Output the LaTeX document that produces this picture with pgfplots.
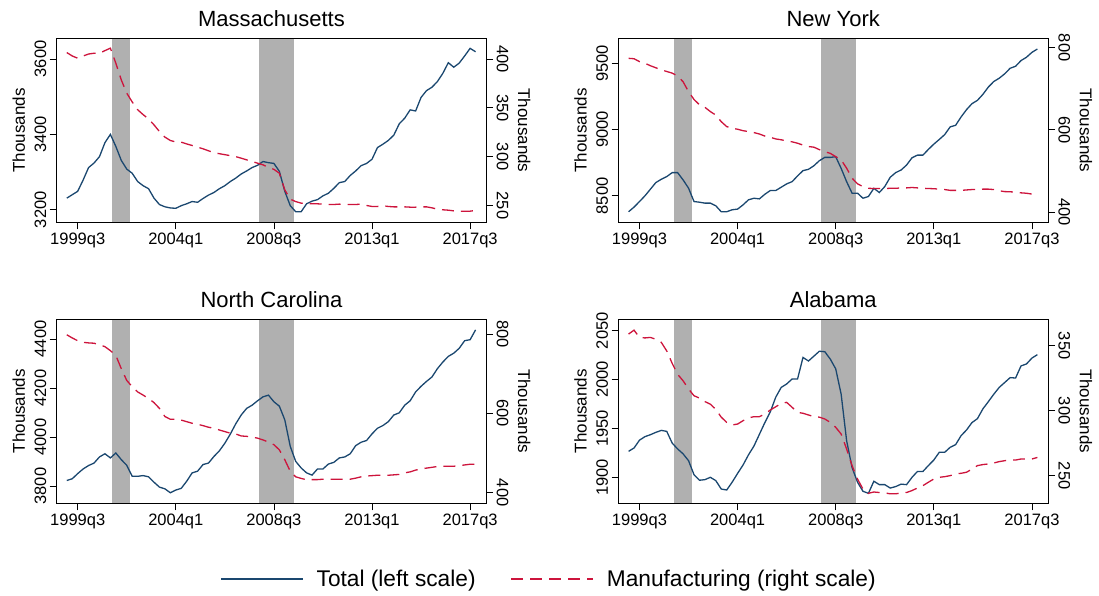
\documentclass[border=0pt]{standalone}
\usepackage{pgfplots}
\pgfplotsset{compat=1.18}
\usepackage{pgfplotstable}
\usepackage{fontspec}
\setmainfont{Liberation Sans}

\definecolor{tot}{RGB}{26,71,111}
\definecolor{man}{RGB}{205,20,60}
\definecolor{rec}{RGB}{176,176,176}

\pgfplotstableread{
t tot man
-2 3231 406.5
-1 3240 403
0 3249 400.7
1 3279 403
2 3312 405
3 3324 405.8
4 3341 405.8
5 3378 408.5
6 3400 411
7 3368 395.6
8 3331 378.5
9 3308 365
10 3297 356
11 3275 348
12 3264 343
13 3256 338.6
14 3231 332.5
15 3214 325.7
16 3208 320
17 3205 316.5
18 3204 315
19 3211 314.8
20 3216 313
21 3222 311.4
22 3220 309.7
23 3230 308
24 3239 306
25 3246 304
26 3256 303
27 3264 302
28 3275 301
29 3284 300
30 3295 298.4
31 3303 296.7
32 3312 295
33 3318 293.3
34 3328 291.6
35 3325 288.9
36 3323 287
37 3302 283
38 3249 266
39 3211 256.5
40 3195 254
41 3195 252.4
42 3216 251.7
43 3223 251.7
44 3227 251.7
45 3237 251.4
46 3244 251
47 3257 251
48 3272 251.4
49 3275 251
50 3291 251
51 3303 251
52 3317 251.4
53 3323 250
54 3334 249
55 3365 249
56 3374 249.7
57 3384 249
58 3398 248.6
59 3428 248.6
60 3443 248.6
61 3465 248.3
62 3462 248.3
63 3498 248.6
64 3516 248.6
65 3525 247.6
66 3540 246.2
67 3562 245.6
68 3590 245.2
69 3578 244.5
70 3589 244.2
71 3608 244.2
72 3628 244.2
73 3619 244.9
}\ma

\pgfplotstableread{
t tot man
-2 8380 774
-1 8415 773
0 8457 766
1 8500 762
2 8550 756
3 8600 751
4 8625 746
5 8645 742
6 8675 738
7 8675 731
8 8620 717
9 8558 693
10 8457 674
11 8452 661
12 8445 655
13 8445 644.5
14 8425 636
15 8380 620
16 8380 608
17 8395 604
18 8400 601.6
19 8432 598
20 8470 596
21 8482 593.5
22 8477 590
23 8512 585
24 8540 582
25 8540 578
26 8565 576
27 8590 573
28 8607 571
29 8650 567.6
30 8690 563
31 8700 559.5
32 8727 558
33 8765 552
34 8790 547
35 8790 543
36 8795 535
37 8707 527
38 8607 507
39 8520 482.6
40 8520 469
41 8482 462
42 8495 458
43 8557 457.5
44 8525 457.5
45 8570 457.5
46 8640 458
47 8675 458
48 8695 459
49 8732 459
50 8787 460
51 8807 459
52 8807 458
53 8850 457.5
54 8890 457
55 8925 456
56 8962 455
57 9020 453
58 9032 453
59 9095 453
60 9150 454
61 9195 455
62 9220 455
63 9265 456
64 9320 456
65 9362 455
66 9387 452
67 9420 450
68 9462 449.6
69 9477 448.6
70 9520 447
71 9545 446
72 9582 444
73 9607 442
}\ny

\pgfplotstableread{
t tot man
-2 3823 798
-1 3830 790
0 3851 783
1 3870 779
2 3884 777.5
3 3894 776.7
4 3919 773
5 3932 768
6 3915 758
7 3935 746
8 3908 712.5
9 3885 683
10 3840 667
11 3840 654
12 3843 646
13 3838 637.5
14 3816 627
15 3796 612.5
16 3789 592
17 3773 585
18 3784 585
19 3791 583
20 3820 579
21 3854 575
22 3861 572.5
23 3888 569
24 3894 565
25 3921 562.5
26 3944 558
27 3975 554
28 4012 550
29 4054 548
30 4090 543
31 4117 542
32 4130 540
33 4148 537.5
34 4164 533
35 4171 527.5
36 4144 521
37 4126 508
38 4070 483
39 3962 454
40 3901 440
41 3874 436
42 3854 432.5
43 3845 433
44 3870 433
45 3870 434
46 3890 434
47 3897 434
48 3915 434
49 3919 434
50 3932 434
51 3965 436.7
52 3979 440
53 3986 442
54 4013 443
55 4036 444
56 4047 444
57 4063 444
58 4090 445
59 4099 446
60 4130 450
61 4148 452.5
62 4184 457
63 4207 460
64 4227 462
65 4245 464
66 4279 466
67 4306 466.7
68 4329 466.7
69 4342 466.7
70 4362 468
71 4393 470
72 4397 471.7
73 4437 471.7
}\nc

\pgfplotstableread{
t tot man
-2 1926.6 359
-1 1930 362
0 1938 356.4
1 1941.6 356
2 1943.6 356.4
3 1946 355
4 1948 352.6
5 1947 346
6 1935 336.4
7 1929 328
8 1924 323
9 1917 316.7
10 1902.7 311.5
11 1897 309.7
12 1897.6 307
13 1900 305
14 1896.6 301
15 1888 295
16 1887 291
17 1895 289
18 1904 289.7
19 1912.6 292.3
20 1923 294.4
21 1932 295.4
22 1944 295.4
23 1956 297.4
24 1967 300.5
25 1982 303
26 1992 305.6
27 1995.5 306.4
28 2000.6 302.6
29 2000.6 298.7
30 2022.7 298
31 2019 296.7
32 2024 295.4
33 2029 295
34 2028.5 293.6
35 2021 291
36 2011 287.2
37 1985 282
38 1937.5 270.5
39 1910 257.7
40 1895 247.4
41 1885.7 239.7
42 1883.6 236.4
43 1896 237.4
44 1892.5 237
45 1892.5 236.7
46 1889 236
47 1890.5 236
48 1893 236.7
49 1892.5 237
50 1900 238.5
51 1906 240.5
52 1906 242.3
53 1912 244.9
54 1917.7 247.4
55 1925.6 248.7
56 1925.6 249.2
57 1930.7 250
58 1933.4 251.3
59 1942.6 251.8
60 1948.4 252.6
61 1956 255
62 1960 257.7
63 1970 258.5
64 1977.4 259
65 1985 259.7
66 1992 260.8
67 1997 261.5
68 2002 262
69 2001.6 262
70 2014 262.8
71 2016 262.8
72 2022 262.8
73 2025.5 264
}\al

\pgfplotsset{
  panel/.style={scale only axis, width=429.5pt, height=184.2pt,
    xmin=-3.85, xmax=74.95, anchor=south west,
    /pgf/number format/assume math mode=true,
    /pgf/number format/1000 sep={},
    scaled y ticks=false,
    tick label style={font=\fontsize{16.5}{18}\selectfont},
    label style={font=\fontsize{17}{19}\selectfont},
    tick align=outside, major tick length=7pt,
    every tick/.style={black, line width=0.8pt},
    axis line style={line width=0.8pt}},
  leftax/.style={panel, axis on top,
    xtick={0,18,36,54,72},
    xticklabels={1999q3,2004q1,2008q3,2013q1,2017q3},
    xtick pos=bottom, ytick pos=left,
    yticklabel style={rotate=90, anchor=south},
    ylabel=Thousands,
    ylabel style={at={(axis description cs:-0.0885,0.5)}, anchor=center},
    title style={font=\fontsize{22}{24}\selectfont, at={(axis description cs:0.5,1)}, anchor=base, yshift=5.6pt}},
  rightax/.style={panel, axis x line=none, axis y line*=right,
    yticklabel style={rotate=-90, anchor=south},
    ylabel=Thousands,
    ylabel style={at={(axis description cs:1.0885,0.5)}, anchor=center, rotate=180}},
  totline/.style={tot, line width=1.3pt},
  manline/.style={man, line width=1.3pt, dash pattern=on 12pt off 7pt},
  recband/.style={fill=rec, draw=none, forget plot},
}

\begin{document}
\begin{tikzpicture}
\useasboundingbox (0,0) rectangle (1099pt,596pt);

% Massachusetts
\begin{axis}[leftax, at={(56.7pt,373.5pt)}, title={Massachusetts},
  ymin=3166.4, ymax=3654.7, ytick={3200,3400,3600}]
\addplot[recband] coordinates {(6.35,3150) (6.35,3670) (9.65,3670) (9.65,3150)} -- cycle;
\addplot[recband] coordinates {(33.35,3150) (33.35,3670) (39.65,3670) (39.65,3150)} -- cycle;
\addplot[totline] table[x=t,y=tot] {\ma};
\end{axis}
\begin{axis}[rightax, at={(56.7pt,373.5pt)}, ymin=232.6, ymax=421.1, ytick={250,300,350,400}]
\addplot[manline] table[x=t,y=man] {\ma};
\end{axis}

% New York
\begin{axis}[leftax, at={(618.5pt,373.5pt)}, title={New York},
  ymin=8299, ymax=9688, ytick={8500,9000,9500}]
\addplot[recband] coordinates {(6.35,8250) (6.35,9750) (9.65,9750) (9.65,8250)} -- cycle;
\addplot[recband] coordinates {(33.35,8250) (33.35,9750) (39.65,9750) (39.65,8250)} -- cycle;
\addplot[totline] table[x=t,y=tot] {\ny};
\end{axis}
\begin{axis}[rightax, at={(618.5pt,373.5pt)}, ymin=374.9, ymax=822.7, ytick={400,600,800}]
\addplot[manline] table[x=t,y=man] {\ny};
\end{axis}

% North Carolina
\begin{axis}[leftax, at={(56.7pt,92.7pt)}, title={North Carolina},
  ymin=3730, ymax=4481, ytick={3800,4000,4200,4400}]
\addplot[recband] coordinates {(6.35,3700) (6.35,4500) (9.65,4500) (9.65,3700)} -- cycle;
\addplot[recband] coordinates {(33.35,3700) (33.35,4500) (39.65,4500) (39.65,3700)} -- cycle;
\addplot[totline] table[x=t,y=tot] {\nc};
\end{axis}
\begin{axis}[rightax, at={(56.7pt,92.7pt)}, ymin=373.3, ymax=837.5, ytick={400,600,800}]
\addplot[manline] table[x=t,y=man] {\nc};
\end{axis}

% Alabama
\begin{axis}[leftax, at={(618.5pt,92.7pt)}, title={Alabama},
  ymin=1873.4, ymax=2061.9, ytick={1900,1950,2000,2050}]
\addplot[recband] coordinates {(6.35,1865) (6.35,2070) (9.65,2070) (9.65,1865)} -- cycle;
\addplot[recband] coordinates {(33.35,1865) (33.35,2070) (39.65,2070) (39.65,1865)} -- cycle;
\addplot[totline] table[x=t,y=tot] {\al};
\end{axis}
\begin{axis}[rightax, at={(618.5pt,92.7pt)}, ymin=228.7, ymax=370.5, ytick={250,300,350},
  legend columns=2,
  legend style={at={(axis description cs:-0.1618,-0.411)}, anchor=center,
    draw=none, fill=none, font=\fontsize{22.7}{24}\selectfont,
    /tikz/every odd column/.append style={column sep=11pt},
    /tikz/every even column/.append style={column sep=33pt}},
  legend image code/.code={\draw[#1] (0pt,0pt) -- (82pt,0pt);}]
\addlegendimage{totline}
\addlegendentry{Total (left scale)}
\addplot[manline] table[x=t,y=man] {\al};
\addlegendentry{Manufacturing (right scale)}
\end{axis}
\end{tikzpicture}
\end{document}
